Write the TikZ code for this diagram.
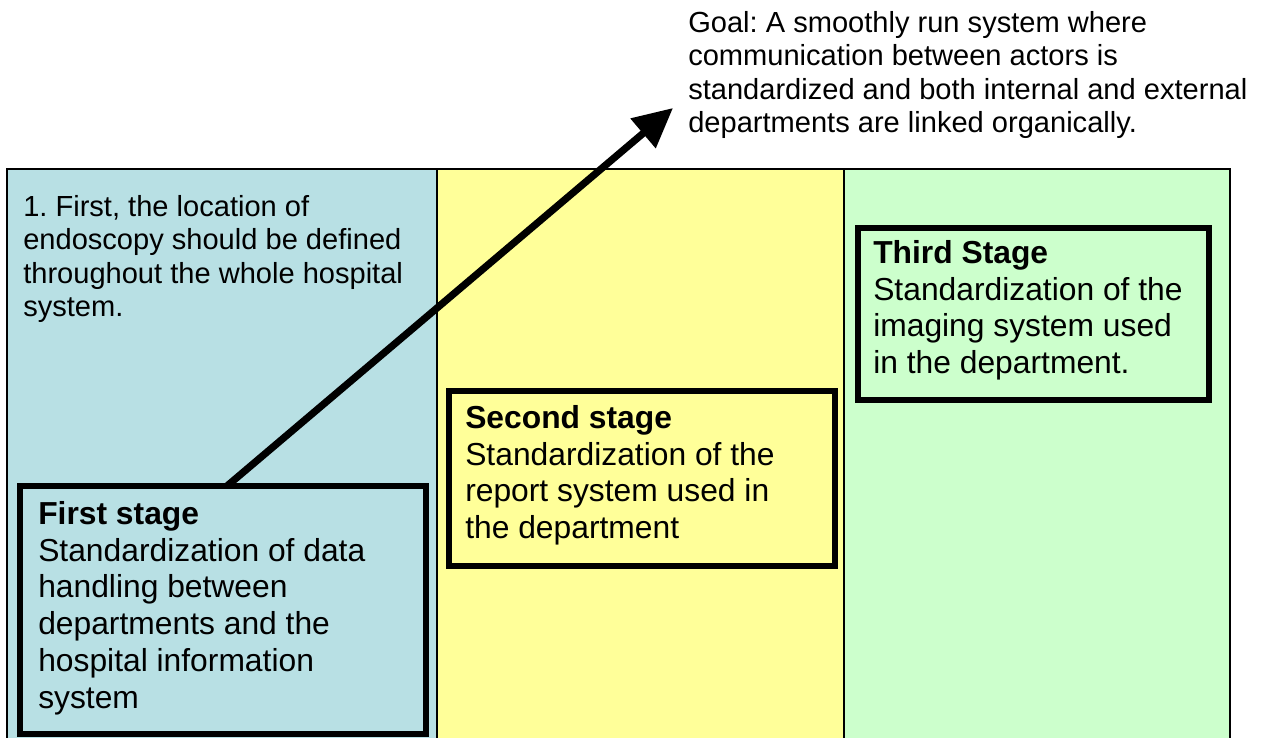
\documentclass[tikz,border=0pt]{standalone}
\usepackage{fontspec}
\setmainfont{Liberation Sans}
\usetikzlibrary{arrows.meta}
\frenchspacing
\definecolor{colblue}{RGB}{184,224,228}
\definecolor{colyellow}{RGB}{255,255,153}
\definecolor{colgreen}{RGB}{204,255,204}
\tikzset{
  column/.style={draw=black, line width=1.5pt, inner sep=0pt, outer sep=0pt, anchor=north west, minimum height=450pt},
  stagebox/.style={draw=black, line width=4.5pt, inner sep=0pt, outer sep=0pt, anchor=north west},
  bodytext/.style={font=\fontsize{23.85pt}{27.6pt}\selectfont, align=left, inner sep=0pt, anchor=north west},
  notetext/.style={font=\fontsize{21.8pt}{25.1pt}\selectfont, align=left, inner sep=0pt, anchor=north west},
  bigarrow/.style={line width=5.4pt, -{Triangle[length=29.5pt,width=28pt]}},
}
\begin{document}
\begin{tikzpicture}[x=0.75pt,y=-0.75pt]
\useasboundingbox (0,0) rectangle (1267,738);
\clip (0,0) rectangle (1267,738);
\fill[white] (0,0) rectangle (1267,738);
% columns
\node[column, fill=colblue, minimum width=322.5pt] (colA) at (7,169) {};
\node[column, fill=colyellow, minimum width=305.25pt] (colB) at (437,169) {};
\node[column, fill=colgreen, minimum width=289.5pt] (colC) at (844,169) {};
% stage boxes
\node[stagebox, fill=colblue, minimum width=304.5pt, minimum height=186pt] (first) at (20,486) {};
\node[stagebox, fill=colyellow, minimum width=289.5pt, minimum height=131.6pt] (second) at (448.5,390.5) {};
\node[stagebox, fill=colgreen, minimum width=263.25pt, minimum height=129pt] (third) at (857.5,227.5) {};
% texts
\node[notetext] (note) at (23,195) {1. First, the location of\\endoscopy should be defined\\throughout the whole hospital\\system.};
\node[bodytext] (firsttext) at (38,501) {\textbf{First stage}\\Standardization of data\\handling between\\departments and the\\hospital information\\system};
\node[bodytext] (secondtext) at (465,405) {\textbf{Second stage}\\Standardization of the\\report system used in\\the department};
\node[bodytext] (thirdtext) at (873,240) {\textbf{Third Stage}\\Standardization of the\\imaging system used\\in the department.};
\node[notetext] (goal) at (688,11) {Goal: A smoothly run system where\\communication between actors is\\standardized and both internal and external\\departments are linked organically.};
% arrow
\coordinate (goaltip) at (673,108);
\draw[bigarrow] ([xshift=155.25pt]first.north west) -- (goaltip);
\end{tikzpicture}
\end{document}
